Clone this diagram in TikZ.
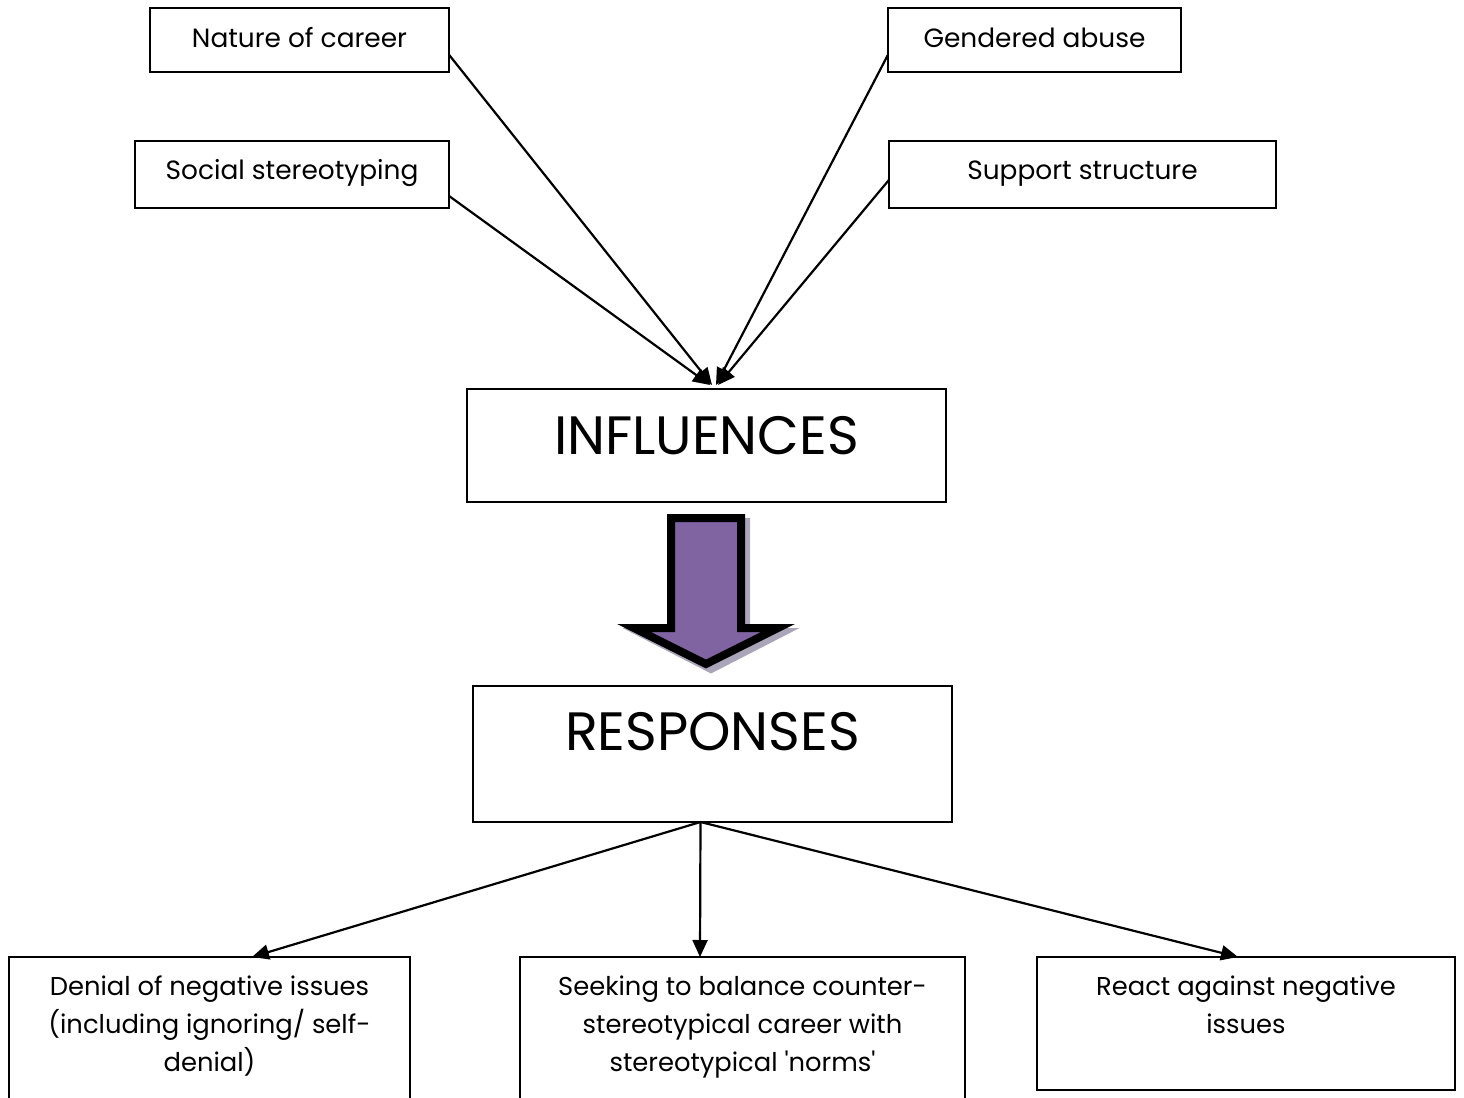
\documentclass[tikz,border=0pt]{standalone}
\usepackage{fontspec}
\setmainfont{Poppins}
\usetikzlibrary{arrows.meta,calc}
\definecolor{arrowpurple}{HTML}{8064A2}
\definecolor{arrowshade}{RGB}{170,165,185}
% box content: width, height, first-baseline depth, text
\newcommand{\bxt}[4]{\parbox[c][#2][t]{#1}{\centering\rule{0pt}{#3}#4}}
\begin{document}
\begin{tikzpicture}[x=0.5pt,y=-0.5pt,
  frame/.style={draw=black,line width=1pt,inner sep=0pt,outer sep=0pt,anchor=north west},
  small/.style={font=\fontsize{13.2}{16}\selectfont},
  resp/.style={font=\fontsize{12.9}{19}\selectfont},
  big/.style={font=\fontsize{27}{32}\selectfont},
  link/.style={line width=1.1pt,-{Triangle[length=8.5pt,width=7.5pt]}}]
\useasboundingbox (0,0) rectangle (1464,1098);
\clip (0,0) rectangle (1464,1098);

% factor boxes
\node[frame,small] (nat) at (150,8)   {\bxt{149.5pt}{32pt}{19.5pt}{Nature of career}};
\node[frame,small] (gen) at (888,8)   {\bxt{146.5pt}{32pt}{19.5pt}{Gendered abuse}};
\node[frame,small] (soc) at (135,141) {\bxt{157pt}{33.5pt}{19pt}{Social stereotyping}};
\node[frame,small] (sup) at (889,141) {\bxt{193.5pt}{33.5pt}{19pt}{Support structure}};

% central boxes
\node[frame,big] (infl) at (467,389) {\bxt{239.5pt}{56.5pt}{32.5pt}{INFLUENCES}};
\node[frame,big] (rsp)  at (473,686) {\bxt{239.5pt}{68pt}{32pt}{RESPONSES}};

% response boxes
\node[frame,resp] (den)  at (9,957)    {\bxt{200.5pt}{80pt}{19pt}{Denial of negative issues\\(including ignoring/ self-\\denial)}};
\node[frame,resp] (seek) at (520,957)  {\bxt{222.5pt}{80pt}{19pt}{Seeking to balance counter-\\stereotypical career with\\stereotypical \textquotesingle norms\textquotesingle}};
\node[frame,resp] (rea)  at (1037,957) {\bxt{209pt}{66.5pt}{19pt}{React against negative\\issues}};

% factors feeding into the influences box
\draw[link] ($(nat.north east)!0.73!(nat.south east)$) -- ($(infl.north)+(5.5,-4)$);
\draw[link] ($(soc.north east)!0.82!(soc.south east)$) -- ($(infl.north)+(3.5,-4)$);
\draw[link] ($(gen.north west)!0.73!(gen.south west)$) -- ($(infl.north)+(9.5,-4)$);
\draw[link] ($(sup.north west)!0.58!(sup.south west)$) -- ($(infl.north)+(11.5,-4)$);

% block arrow from influences to responses, with its drop shadow
\path (infl.south) ++(-0.5,16) coordinate (atop);
\path (rsp.north) ++(-6.5,-22) coordinate (atip);
\draw[arrowshade,fill=arrowshade,line width=4pt,line join=miter]
  ($(atop)+(-30,4)$) -- ($(atop)+(40,4)$) -- ($(atop)+(40,114)$) -- ($(atop)+(77,114)$)
  -- ($(atip)+(5,5)$) -- ($(atop)+(-67,114)$) -- ($(atop)+(-30,114)$) -- cycle;
\draw[black,fill=arrowpurple,line width=4pt,line join=miter]
  ($(atop)+(-35,0)$) -- ($(atop)+(35,0)$) -- ($(atop)+(35,110)$) -- ($(atop)+(72,110)$)
  -- (atip) -- ($(atop)+(-72,110)$) -- ($(atop)+(-35,110)$) -- cycle;

% responses branching out
\coordinate (hub) at ($(rsp.south)+(-12,0)$);
\draw[link] (hub) -- ($(den.north)+(42.5,0)$);
\draw[link] (hub) -- ($(seek.north)+(-42.5,0)$);
\draw[link] (hub) -- ($(rea.north)+(-8,0)$);
\end{tikzpicture}
\end{document}
